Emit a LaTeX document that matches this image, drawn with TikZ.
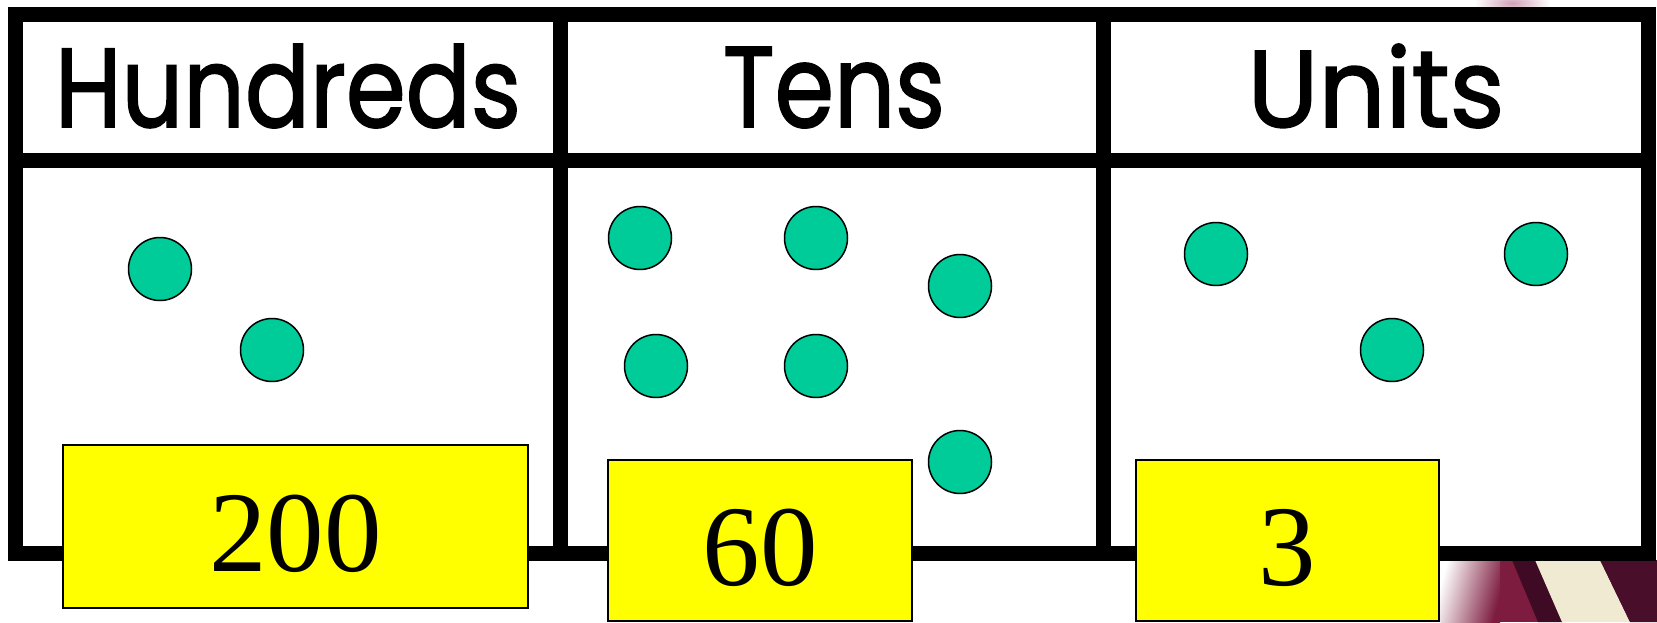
\documentclass[tikz,border=0pt]{standalone}
\usepackage{fontspec}
\setmainfont{Liberation Serif}
\newfontfamily\headfont[FakeBold=1.6]{Poppins}
\usepackage{graphicx}
\definecolor{dotgreen}{RGB}{0,204,153}
\definecolor{boxyellow}{RGB}{255,255,0}
\definecolor{maroonA}{RGB}{125,28,62}
\definecolor{maroonD}{RGB}{62,10,36}
\definecolor{maroonR}{RGB}{72,14,42}
\definecolor{creamS}{RGB}{240,234,210}
\definecolor{blurpink}{RGB}{210,160,182}
\tikzset{
  bar/.style={line width=15pt, draw=black},
  dot/.style={circle, draw=black, line width=1.5pt, fill=dotgreen, minimum size=63pt, inner sep=0pt},
  numbox/.style={rectangle, draw=black, line width=1.5pt, fill=boxyellow, inner sep=0pt, text height=89pt, text depth=0pt, font=\fontsize{115}{120}\selectfont},
  headtext/.style={anchor=base, inner sep=0pt, font=\headfont}
}
\begin{document}
\begin{tikzpicture}[x=1pt,y=-1pt]
\useasboundingbox (0,0) rectangle (1657,622);
\fill[white] (0,0) rectangle (1657,622);
% faint background blur at the top
\begin{scope}
  \clip (1440,0) rectangle (1600,7);
  \shade[inner color=blurpink, outer color=white] (1512,3) ellipse [x radius=38pt, y radius=14pt];
\end{scope}
% photo fragment at bottom right
\begin{scope}
  \clip (1440.5,560) rectangle (1657,622);
  \fill[maroonA] (1440,560) rectangle (1657,622);
  \shade[left color=white, right color=maroonA, shading angle=75] (1440,560) rectangle (1500,622);
  \fill[maroonD] (1512,560) -- (1536,560) -- (1563,622) -- (1538,622) -- cycle;
  \fill[creamS] (1535,560) -- (1600,560) -- (1630,622) -- (1562,622) -- cycle;
  \fill[maroonR] (1600,560) -- (1657,560) -- (1657,622) -- (1630,622) -- cycle;
\end{scope}
% frame
\coordinate (tl) at (15.5,14);
\coordinate (br) at (1648,553);
\coordinate (hl) at (15.5,160.5);
\coordinate (hr) at (1648,160.5);
\coordinate (v1t) at (560,14);
\coordinate (v1b) at (560,553);
\coordinate (v2t) at (1103,14);
\coordinate (v2b) at (1103,553);
\draw[bar, line join=miter] (tl) rectangle (br);
\draw[bar] (hl) -- (hr);
\draw[bar] (v1t) -- (v1b);
\draw[bar] (v2t) -- (v2b);
% headers
\node[headtext] (h1) at (288,127) {\resizebox{466pt}{83pt}{Hundreds}};
\node[headtext] (h2) at (834,127) {\resizebox{222pt}{80pt}{Tens}};
\node[headtext] (h3) at (1376,127) {\resizebox{257pt}{83pt}{Units}};
% dots
\node[dot] (d1) at (160,269) {};
\node[dot] (d2) at (272,350) {};
\node[dot] (d3) at (640,238) {};
\node[dot] (d4) at (816,238) {};
\node[dot] (d5) at (960,286) {};
\node[dot] (d6) at (656,366) {};
\node[dot] (d7) at (816,366) {};
\node[dot] (d8) at (960,462) {};
\node[dot] (d9) at (1216,254) {};
\node[dot] (d10) at (1536,254) {};
\node[dot] (d11) at (1392,350) {};
% number boxes
\node[numbox, minimum width=465pt, minimum height=163pt] (n1) at (295.5,526.5) {200};
\node[numbox, minimum width=304pt, minimum height=161pt] (n2) at (760,540.5) {60};
\node[numbox, minimum width=303pt, minimum height=161pt] (n3) at (1287.5,540.5) {3};
\end{tikzpicture}
\end{document}
